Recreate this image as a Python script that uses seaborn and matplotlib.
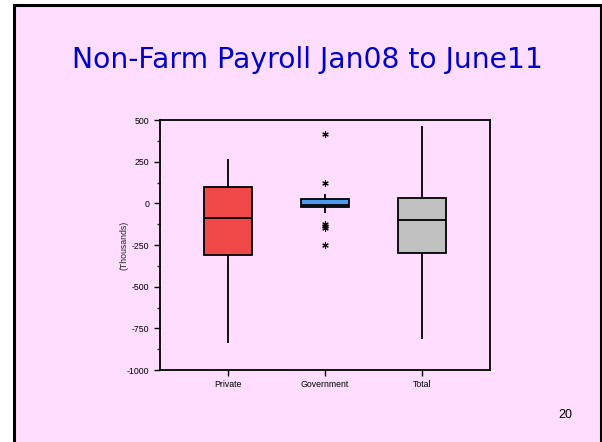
import numpy as np
import pandas as pd
import matplotlib
matplotlib.use("Agg")
import matplotlib.pyplot as plt
import seaborn as sns
from matplotlib.ticker import MultipleLocator
from matplotlib.patches import Rectangle

categories = ["Private", "Government", "Total"]
# five-number summaries: low whisker, Q1, median, Q3, high whisker
private_vals = [-840, -312, -90, 100, 266]
government_vals = [-58, -22, -12, 26, 56]
total_vals = [-816, -296, -100, 30, 464]
gov_outliers = [416, 120, -124, -137, -150, -252]
box_colors = ["#F04848", "#4A9BF0", "#C0C0C0"]

df = pd.DataFrame({"group": np.repeat(categories, 5),
                   "value": private_vals + government_vals + total_vals})
out_df = pd.DataFrame({"group": ["Government"] * len(gov_outliers),
                       "value": gov_outliers})

sns.set_style("ticks")
plt.rcParams['font.family'] = ['Liberation Sans', 'DejaVu Sans']
plt.rcParams['axes.unicode_minus'] = False

fig = plt.figure(figsize=(6.02, 4.42), dpi=100)
fig.patch.set_facecolor("white")
# slide background with black frame
fig.patches.append(Rectangle((13.5 / 602, -0.05), (600.5 - 13.5) / 602, 1.05 - 4.5 / 442,
                             transform=fig.transFigure, facecolor="#FFDDFF",
                             edgecolor="black", linewidth=2.2, zorder=-1))

ax = fig.add_axes([160 / 602, 1 - 370 / 442, 330 / 602, 250 / 442])
ax.set_zorder(2)
ax.set_facecolor("#FFDDFF")

sns.boxplot(data=df, x="group", y="value", order=categories, hue="group",
            palette=box_colors, whis=(0, 100), width=0.5, linecolor="black",
            linewidth=1.3, showcaps=False, showfliers=False, legend=False,
            saturation=1, ax=ax)
sns.stripplot(data=out_df, x="group", y="value", order=categories, jitter=False,
              marker=(6, 2, 0), color="black", size=4, linewidth=0.8, ax=ax)

ax.set_xlim(-0.7, 2.7)
ax.set_ylim(-1000, 500)
ax.yaxis.set_major_locator(MultipleLocator(250))
ax.yaxis.set_minor_locator(MultipleLocator(125))
ax.tick_params(axis="both", direction="out", length=4, width=1, labelsize=6.3, colors="black")
ax.tick_params(axis="y", which="minor", direction="out", length=2.5, width=1)
ax.set_xlabel("")
ax.set_ylabel("(Thousands)", fontsize=6.3, labelpad=-1)
for s in ax.spines.values():
    s.set_visible(True)
    s.set_color("black")
    s.set_linewidth(1.3)

fig.text(0.51, 1 - 60 / 442, "Non-Farm Payroll Jan08 to June11", ha="center", va="center",
         fontsize=20.3, color="#0000CC", family=["DejaVu Sans"])
fig.text(565 / 602, 1 - 415 / 442, "20", ha="center", va="center", fontsize=9, color="black")

fig.savefig("out.png", dpi=100, facecolor=fig.get_facecolor())
